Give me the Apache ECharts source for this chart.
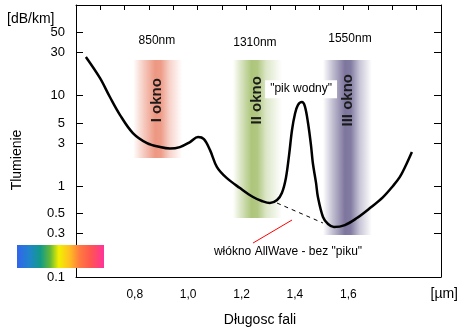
<!DOCTYPE html>
<html>
<head>
<meta charset="utf-8">
<script src="https://cdn.jsdelivr.net/npm/echarts@6/dist/echarts.min.js"></script>
<style>
  html, body { margin: 0; padding: 0; background: #fff; }
  #chart { width: 470px; height: 333px; }
</style>
</head>
<body>
<div id="chart"></div>
<script>
// ---- data (wavelength in µm, attenuation in dB/km) ----
const curveX = [0.617, 0.670, 0.707, 0.745, 0.793, 0.846, 0.895, 0.932, 0.969, 1.007, 1.037, 1.059, 1.082, 1.108, 1.145, 1.194, 1.243, 1.276, 1.306, 1.333, 1.351, 1.366, 1.378, 1.389, 1.400, 1.411, 1.426, 1.437, 1.449, 1.460, 1.467, 1.479, 1.486, 1.505, 1.524, 1.546, 1.587, 1.632, 1.681, 1.730, 1.767, 1.793, 1.816, 1.838];
const curveY = [26.7, 15.6, 9.66, 6.11, 3.87, 3.00, 2.71, 2.61, 2.71, 3.08, 3.50, 3.32, 2.51, 1.63, 1.23, 0.958, 0.762, 0.689, 0.654, 0.706, 0.844, 1.23, 2.21, 4.18, 6.27, 7.88, 8.51, 7.68, 4.99, 2.85, 1.81, 1.09, 0.762, 0.459, 0.384, 0.356, 0.374, 0.447, 0.576, 0.762, 1.01, 1.27, 1.72, 2.39];

// AllWave (no water peak) dashed segment
const allWaveX = [1.333, 1.505];
const allWaveY = [0.654, 0.394];

// pointer line to the AllWave label
const pointerX = [1.243, 1.389];
const pointerY = [0.237, 0.425];

// transmission windows
const bandNames  = ['I okno', 'II okno', 'III okno'];
const bandWaves  = ['850nm', '1310nm', '1550nm'];
const bandX0     = [0.794, 1.168, 1.505];
const bandX1     = [0.977, 1.351, 1.688];
const bandYTop   = [24.7, 24.7, 24.7];
const bandYBot   = [2.05, 0.447, 0.29];
const bandColors = ['236,146,124', '168,194,116', '118,110,152'];
const bandPeak   = [0.45, 0.38, 0.45];
const bandCenterX = [0.883, 1.258, 1.599];
const bandTextY  = [8.9, 8.9, 8.9];
const waveLabelX = [0.883, 1.250, 1.606];
const waveLabelY = [40.0, 38.1, 42.1];

// axis ticks / labels
const xTickLabels = [0.8, 1.0, 1.2, 1.4, 1.6];
const yTickValues = [0.3, 0.5, 1, 3, 5, 10, 30, 50];
const yTickLabels = [0.1, 0.3, 0.5, 1, 3, 5, 10, 30, 50];
const X_MIN = 0.58, X_MAX = 1.947;
const Y_MIN = 0.1, Y_MAX = 100;

// annotations
const peakLabel = { text: '"pik wodny"', x: 1.423, y: 11.8 };
const allWaveLabel = { text: 'włókno AllWave - bez "piku"', x: 1.374, y: 0.1886 };

const FONT = '"Liberation Sans", Arial, sans-serif';
const chart = echarts.init(document.getElementById('chart'), null, { renderer: 'canvas' });

const topTicks = [];
for (let k = 1; k < 15; k++) topTicks.push(X_MIN + k * (X_MAX - X_MIN) / 15);

const fmtY = v => String(Number(Number(v).toPrecision(3)));

const bandAreas = bandNames.map((n, i) => {
  const c = bandColors[i];
  const p = bandPeak[i];
  return [
    {
      xAxis: bandX0[i], yAxis: bandYTop[i],
      itemStyle: {
        color: {
          type: 'linear', x: 0, y: 0, x2: 1, y2: 0,
          colorStops: [
            { offset: 0, color: 'rgba(' + c + ',0)' },
            { offset: p * 0.45, color: 'rgba(' + c + ',0.45)' },
            { offset: p, color: 'rgba(' + c + ',0.95)' },
            { offset: p + 0.12, color: 'rgba(' + c + ',0.9)' },
            { offset: p + 0.3, color: 'rgba(' + c + ',0.4)' },
            { offset: 1, color: 'rgba(' + c + ',0)' }
          ]
        }
      }
    },
    { xAxis: bandX1[i], yAxis: bandYBot[i] }
  ];
});

const axisLineStyle = { show: true, lineStyle: { color: '#000', width: 1 } };

chart.setOption({
  animation: false,
  backgroundColor: '#fff',
  grid: { left: 76, right: 29, top: 5, bottom: 56 },
  xAxis: [
    {
      type: 'value', position: 'bottom', min: X_MIN, max: X_MAX,
      axisLine: axisLineStyle,
      axisTick: { show: false },
      splitLine: { show: false },
      axisLabel: {
        customValues: xTickLabels,
        formatter: v => Number(v).toFixed(1).replace('.', ','),
        color: '#000', fontSize: 12, fontFamily: FONT, margin: 12
      }
    },
    {
      type: 'value', position: 'top', min: X_MIN, max: X_MAX,
      axisLine: axisLineStyle,
      axisTick: { show: true, inside: true, length: 5, customValues: topTicks, lineStyle: { color: '#000' } },
      axisLabel: { show: false },
      splitLine: { show: false }
    }
  ],
  yAxis: [
    {
      type: 'log', logBase: 10, position: 'left', min: Y_MIN, max: Y_MAX,
      axisLine: axisLineStyle,
      axisTick: { show: true, inside: true, length: 7, customValues: yTickValues, lineStyle: { color: '#000' } },
      minorTick: { show: false },
      splitLine: { show: false },
      axisLabel: {
        customValues: yTickLabels, formatter: fmtY,
        color: '#000', fontSize: 13, fontFamily: FONT, margin: 11
      }
    },
    {
      type: 'log', logBase: 10, position: 'right', min: Y_MIN, max: Y_MAX,
      axisLine: axisLineStyle,
      axisTick: { show: true, inside: true, length: 7, customValues: yTickValues, lineStyle: { color: '#000' } },
      minorTick: { show: false },
      splitLine: { show: false },
      axisLabel: { show: false }
    }
  ],
  series: [
    {
      name: 'bands', type: 'line', xAxisIndex: 0, yAxisIndex: 0, z: 1,
      data: [], symbol: 'none', silent: true,
      markArea: { silent: true, label: { show: false }, data: bandAreas }
    },
    {
      name: 'allwave', type: 'line', xAxisIndex: 0, yAxisIndex: 0, z: 2,
      data: allWaveX.map((x, i) => [x, allWaveY[i]]),
      symbol: 'none',
      lineStyle: { color: '#000', width: 1, type: [4, 4] }
    },
    {
      name: 'pointer', type: 'line', xAxisIndex: 1, yAxisIndex: 1, z: 2,
      data: pointerX.map((x, i) => [x, pointerY[i]]),
      symbol: 'none',
      lineStyle: { color: '#ff0000', width: 1 }
    },
    {
      name: 'tlumienie', type: 'line', xAxisIndex: 0, yAxisIndex: 0, z: 3,
      data: curveX.map((x, i) => [x, curveY[i]]),
      symbol: 'none', smooth: 0.35,
      lineStyle: { color: '#000', width: 2.5 }
    }
  ]
});

function px(x, y) { return chart.convertToPixel({ xAxisIndex: 0, yAxisIndex: 0 }, [x, y]); }

const graphics = [];
bandNames.forEach((n, i) => {
  const p = px(bandCenterX[i], bandTextY[i]);
  graphics.push({
    type: 'text', x: p[0], y: p[1], rotation: Math.PI / 2, z: 10,
    style: { text: n, fontSize: 15, fontWeight: 'bold', fontFamily: FONT, fill: '#1a1a1a', align: 'center', verticalAlign: 'middle' }
  });
  const q = px(waveLabelX[i], waveLabelY[i]);
  graphics.push({
    type: 'text', x: q[0], y: q[1], z: 10,
    style: { text: bandWaves[i], fontSize: 12, fontFamily: FONT, fill: '#000', align: 'center', verticalAlign: 'middle' }
  });
});
const pp = px(peakLabel.x, peakLabel.y);
graphics.push({
  type: 'text', x: pp[0], y: pp[1], z: 10,
  style: { text: peakLabel.text, fontSize: 12, fontFamily: FONT, fill: '#000', align: 'center', verticalAlign: 'middle',
           backgroundColor: '#fff', padding: [3, 5, 3, 5] }
});
const ap = px(allWaveLabel.x, allWaveLabel.y);
graphics.push({
  type: 'text', x: ap[0], y: ap[1], z: 10,
  style: { text: allWaveLabel.text, fontSize: 12, fontFamily: FONT, fill: '#000', align: 'center', verticalAlign: 'middle' }
});
// axis titles
graphics.push({ type: 'text', x: 7, y: 19, style: { text: '[dB/km]', fontSize: 14, fontFamily: FONT, fill: '#000', align: 'left', verticalAlign: 'middle' } });
graphics.push({ type: 'text', x: 458, y: 294, style: { text: '[µm]', fontSize: 14, fontFamily: FONT, fill: '#000', align: 'right', verticalAlign: 'middle' } });
graphics.push({ type: 'text', x: 260, y: 320, style: { text: 'Długosc fali', fontSize: 14, fontFamily: FONT, fill: '#000', align: 'center', verticalAlign: 'middle' } });
graphics.push({ type: 'text', x: 17, y: 160, rotation: Math.PI / 2, style: { text: 'Tlumienie', fontSize: 14, fontFamily: FONT, fill: '#000', align: 'center', verticalAlign: 'middle' } });
// spectrum colour bar
graphics.push({
  type: 'rect', shape: { x: 17, y: 245, width: 87, height: 23 }, z: 20,
  style: {
    fill: {
      type: 'linear', x: 0, y: 0, x2: 1, y2: 0,
      colorStops: [
        { offset: 0, color: '#3264ee' },
        { offset: 0.15, color: '#1f86c8' },
        { offset: 0.27, color: '#129a88' },
        { offset: 0.38, color: '#62b838' },
        { offset: 0.48, color: '#f2f000' },
        { offset: 0.6, color: '#ffc020' },
        { offset: 0.72, color: '#ff7a40' },
        { offset: 0.85, color: '#ff5550' },
        { offset: 1, color: '#ff3399' }
      ]
    }
  }
});
chart.setOption({ graphic: graphics });
</script>
</body>
</html>
